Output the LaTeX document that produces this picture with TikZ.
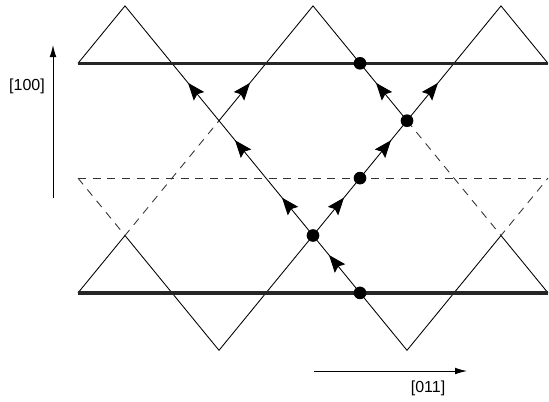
\documentclass[tikz,border=0pt]{standalone}
\usepackage{fontspec}
\setmainfont{Liberation Sans}
\usetikzlibrary{arrows.meta,decorations.markings}

\begin{document}
\begin{tikzpicture}[x=0.75pt, y=-0.75pt,
  ln/.style={line width=0.65pt},
  dln/.style={line width=0.65pt, black!80, dash pattern=on 6pt off 5pt},
  wall/.style={line width=2.6pt, black!85},
  arr/.style={ln, postaction={decorate},
              decoration={markings, mark=at position 0.66 with {\arrow{Stealth[length=13pt, width=10pt, inset=2pt]}}}},
  dot/.style={circle, fill=black, inner sep=0pt, minimum size=9.5pt},
  axis/.style={line width=0.65pt, -{Latex[length=9pt, width=5pt]}},
  lbl/.style={font=\fontsize{12}{14}\selectfont, inner sep=0pt, anchor=base}
]
\useasboundingbox (0,0) rectangle (549,401);

%% Lattice of crossing points
\foreach \i in {0,...,10}
  \foreach \j in {0,...,6}
    \coordinate (g-\i-\j) at ({78+47*\i}, {5.9+57.4*\j});

%% Solid zig-zag facets
\draw[ln] (g-0-1) -- (g-1-0) -- (g-2-1);
\draw[ln] (g-4-1) -- (g-5-0) -- (g-6-1);
\draw[ln] (g-8-1) -- (g-9-0) -- (g-10-1);
\draw[ln] (g-0-5) -- (g-1-4) -- (g-3-6) -- (g-5-4);
\draw[ln] (g-6-5) -- (g-7-6) -- (g-9-4) -- (g-10-5);

%% Dashed continuations
\draw[dln] (g-0-3) -- (g-1-4) -- (g-3-2);
\draw[dln] (g-7-2) -- (g-9-4) -- (g-10-3);
\draw[dln] (g-0-3) -- (g-10-3);

%% Arrowed segments
\foreach \a/\b in {3-2/2-1, 4-3/3-2, 5-4/4-3, 6-5/5-4,
                   3-2/4-1, 5-4/6-3, 6-3/7-2, 7-2/8-1, 7-2/6-1}
  \draw[arr] (g-\a) -- (g-\b);

%% Thick planes
\draw[wall] (g-0-1) -- (g-10-1);
\draw[wall] (g-0-5) -- (g-10-5);

%% Nodes on the path
\foreach \p in {6-1, 7-2, 6-3, 5-4, 6-5}
  \node[dot] (d-\p) at (g-\p) {};

%% Axes
\coordinate (vb) at (53,198);
\coordinate (vt) at (53,45);
\draw[axis] (vb) -- (vt);
\node[lbl] (lv) at (27,90) {[100]};

\coordinate (hb) at (314,371);
\coordinate (ht) at (467,371);
\draw[axis] (hb) -- (ht);
\node[lbl] (lh) at (428,392) {[011]};
\end{tikzpicture}
\end{document}
